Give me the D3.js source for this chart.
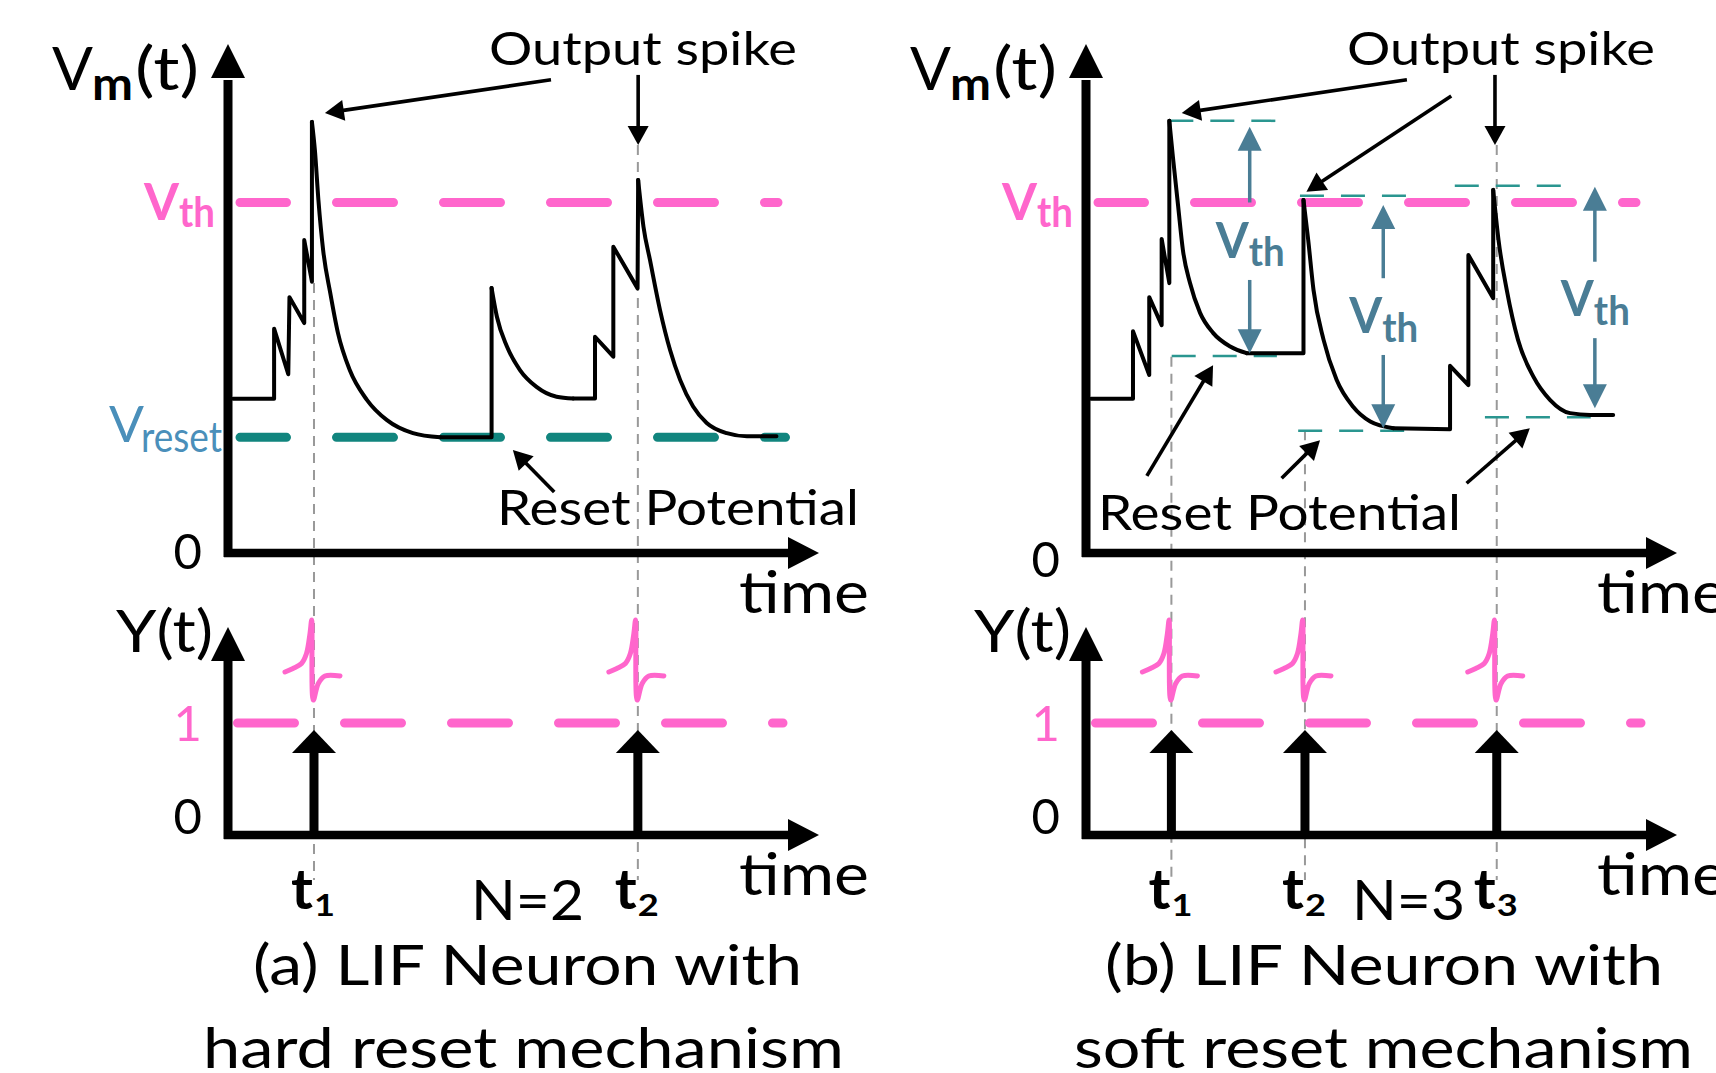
<!DOCTYPE html>
<html><head><meta charset="utf-8">
<script src="https://cdn.jsdelivr.net/npm/d3@7"></script>
<style>
body{margin:0;background:#fff}
svg{display:block}
text{font-family:Lato,"Open Sans",sans-serif}
</style>
</head><body>
<svg id="c" width="1716" height="1073"></svg>
<script>
// ---------------- data ----------------
const V_TH = 1.0;
const V_RESET = 0.33;
const OUT_LEVEL = 1;
const vmTicks = [0];
const outTicks = [0, 1];

// (a) hard reset membrane potential, [time, Vm] (Vm in units of Vth)
const hardJag1   = [[0.85,0.44],[7.8,0.44],[7.8,0.64],[10.2,0.51],[10.4,0.73],[12.9,0.656],[12.9,0.893],[14.2,0.774],[14.2,1.23]];
const hardDecay1 = [[14.2,1.23],[14.7,1.15],[15.3,1.007],[16.1,0.864],[17.3,0.742],[18.6,0.628],[20.6,0.522],[23.5,0.437],[26.9,0.379],[31.3,0.342],[35.9,0.33]];
const hardFlat1  = [[35.9,0.33],[44.6,0.33],[44.6,0.756]];
const hardDecay2 = [[44.6,0.756],[45.5,0.674],[47.2,0.589],[49.4,0.522],[52.2,0.474],[55.6,0.446],[58.4,0.441]];
const hardJag2   = [[58.4,0.441],[62.1,0.441],[62.1,0.617],[65.2,0.56],[65.2,0.874],[69.3,0.755],[69.4,1.064]];
const hardDecay3 = [[69.4,1.064],[70.3,0.931],[71.4,0.836],[73.1,0.693],[74.8,0.579],[76.5,0.494],[78.7,0.418],[81.0,0.371],[84.4,0.342],[87.8,0.333],[92.8,0.333]];
const hardSpikeT = [14.55, 69.35];

// (b) soft reset membrane potential
const softJag1   = [[0.85,0.44],[7.95,0.44],[7.95,0.633],[10.7,0.508],[10.7,0.73],[12.8,0.65],[12.8,0.896],[14.1,0.77],[14.1,1.233]];
const softDecay1 = [[14.1,1.233],[14.7,1.131],[15.6,0.988],[16.4,0.864],[17.6,0.77],[19.3,0.685],[21.5,0.628],[24.4,0.589],[27.2,0.57]];
const softFlat1  = [[27.2,0.57],[36.8,0.57],[36.8,1.007]];
const softDecay2 = [[36.8,1.007],[37.6,0.893],[38.5,0.75],[40.2,0.608],[42.4,0.494],[45.2,0.417],[48.1,0.375],[52.0,0.356]];
const softJag2   = [[52.0,0.356],[61.6,0.353],[61.6,0.534],[64.7,0.479],[64.7,0.85],[68.9,0.727],[68.9,1.036]];
const softDecay3 = [[68.9,1.036],[69.8,0.893],[71.2,0.75],[73.1,0.608],[75.7,0.503],[78.5,0.437],[81.9,0.399],[85.3,0.394],[89.2,0.394]];
const softSpikeT = [14.45, 37.05, 69.5];
// soft reset reference levels [tStart, tEnd, level]
const softRefLevels = [[14.1,33.2,1.233],[14.5,32.3,0.562],[36.2,54.8,1.019],[35.9,56.6,0.349],[62.4,81.4,1.048],[67.5,85.4,0.387]];
// Vth span arrows [time, top, topEnd, bottomStart, bottom]
const softVthSpans = [[27.7,1.216,1.0,0.779,0.57],[50.3,0.993,0.784,0.565,0.356],[86.1,1.045,0.831,0.613,0.413]];

// annotation arrows [tFrom, vFrom, tTo, vTo]
const hardOutArrows   = [[54.65,1.35,16.4,1.255],[69.4,1.364,69.4,1.164]];
const hardResetArrows = [[55.2,0.174,48.2,0.294]];
const softOutArrows   = [[54.3,1.35,16.2,1.255],[61.8,1.304,37.3,1.031],[69.2,1.364,69.2,1.164]];
const softResetArrows = [[10.3,0.22,21.5,0.536],[33.1,0.213,39.6,0.322],[64.4,0.199,75.1,0.356]];
const hardGuideTop = [0.77, 1.164];
const softGuideTop = [0.56, 0.35, 1.164];

const spikeIndexLabels = [["1","2"],["1","2","3"]];
const countLabels = ["N=2","N=3"];
const captionLines = [["(a) LIF Neuron with","hard reset mechanism"],["(b) LIF Neuron with","soft reset mechanism"]];

// ---------------- style ----------------
const PINK = "#ff66cc", TEAL = "#11857e", STEEL = "#4a7d95", VRESET_C = "#4a8fba", GRAY = "#999999";
const SPIKE_ICON = [[-29,-51],[-21,-54.5],[-12.5,-59.5],[-7.5,-69.5],[-4,-89.5],[-2.3,-103],[-0.7,-23],[4.3,-39.5],[11,-47],[26,-47]];

const svg = d3.select("#c");
const yV = d3.scaleLinear().domain([0, 1]).range([553, 202.5]);
const yS = d3.scaleLinear().domain([0, 1]).range([835, 723]);

function T(g, s, x, y, size, o = {}) {
  const t = g.append("text").attr("x", x).attr("y", y).attr("font-size", size)
    .attr("font-weight", o.w || 400).attr("fill", o.c || "#000").text(s);
  if (o.len) t.attr("textLength", o.len).attr("lengthAdjust", "spacingAndGlyphs");
  if (o.anchor) t.attr("text-anchor", o.anchor);
  return t;
}
function arrow(g, x1, y1, x2, y2, o) {
  const dx = x2 - x1, dy = y2 - y1, L = Math.hypot(dx, dy), ux = dx / L, uy = dy / L;
  const bx = x2 - ux * o.len, by = y2 - uy * o.len;
  g.append("line").attr("x1", x1).attr("y1", y1).attr("x2", bx + ux * 2).attr("y2", by + uy * 2)
    .attr("stroke", o.c).attr("stroke-width", o.w).attr("stroke-linecap", o.cap || "butt");
  g.append("path").attr("d", `M${x2},${y2}L${bx - uy * o.half},${by + ux * o.half}L${bx + uy * o.half},${by - ux * o.half}Z`)
    .attr("fill", o.c);
}

const panels = [
  { ox: 228, segs: [[hardJag1,0],[hardDecay1,1],[hardFlat1,0],[hardDecay2,1],[hardJag2,0],[hardDecay3,1]],
    spikes: hardSpikeT, guideTop: hardGuideTop, outArrows: hardOutArrows, resetArrows: hardResetArrows,
    vreset: true, zeroY: 0, rp: [497, 525, 362], count: [471, 113], cap1: [253, 549], cap2: [203, 641] },
  { ox: 1086, segs: [[softJag1,0],[softDecay1,1],[softFlat1,0],[softDecay2,1],[softJag2,0],[softDecay3,1]],
    spikes: softSpikeT, guideTop: softGuideTop, outArrows: softOutArrows, resetArrows: softResetArrows,
    vreset: false, zeroY: 8, rp: [1098, 530, 363], count: [1352, 113], cap1: [1105, 558], cap2: [1074, 619] }
];

panels.forEach((p, pi) => {
  const g = svg.append("g");
  const x = d3.scaleLinear().domain([0, 100]).range([p.ox, p.ox + 591]);
  const off = p.ox - 228;

  // guide lines (gray dashed verticals)
  p.spikes.forEach((t, i) => {
    g.append("line").attr("x1", x(t)).attr("x2", x(t)).attr("y1", yV(p.guideTop[i])).attr("y2", 880)
      .attr("stroke", GRAY).attr("stroke-width", 2).attr("stroke-dasharray", "10,7");
  });

  // threshold line
  g.append("line").attr("x1", x(0) + 12).attr("x2", x(0) + 550).attr("y1", yV(V_TH)).attr("y2", yV(V_TH))
    .attr("stroke", PINK).attr("stroke-width", 9).attr("stroke-linecap", "round")
    .attr("stroke-dasharray", "57,50").attr("stroke-dashoffset", 10.5);
  if (p.vreset) {
    g.append("line").attr("x1", x(0) + 12).attr("x2", x(0) + 557.5).attr("y1", yV(V_RESET)).attr("y2", yV(V_RESET))
      .attr("stroke", TEAL).attr("stroke-width", 9).attr("stroke-linecap", "round")
      .attr("stroke-dasharray", "57,50").attr("stroke-dashoffset", 10.5);
  } else {
    softRefLevels.forEach(r => {
      g.append("line").attr("x1", x(r[0])).attr("x2", x(r[1])).attr("y1", yV(r[2])).attr("y2", yV(r[2]))
        .attr("stroke", "#2a9690").attr("stroke-width", 2.5).attr("stroke-dasharray", "24,17");
    });
  }
  // output level line
  g.append("line").attr("x1", x(0) + 9.5).attr("x2", x(0) + 555).attr("y1", yS(OUT_LEVEL)).attr("y2", yS(OUT_LEVEL))
    .attr("stroke", PINK).attr("stroke-width", 9).attr("stroke-linecap", "round")
    .attr("stroke-dasharray", "57,50");

  // waveform
  p.segs.forEach(([pts, smooth]) => {
    const ln = d3.line().x(d => x(d[0])).y(d => yV(d[1])).curve(smooth ? d3.curveMonotoneX : d3.curveLinear);
    g.append("path").attr("d", ln(pts)).attr("fill", "none").attr("stroke", "#000")
      .attr("stroke-width", 4).attr("stroke-linejoin", "round").attr("stroke-linecap", "round");
  });

  // Vth span arrows (soft)
  if (!p.vreset) {
    softVthSpans.forEach(s => {
      const ax = x(s[0]);
      arrow(g, ax, yV(s[2]), ax, yV(s[1]), { c: STEEL, w: 3.5, len: 24, half: 12 });
      arrow(g, ax, yV(s[3]), ax, yV(s[4]), { c: STEEL, w: 3.5, len: 24, half: 12 });
      const mid = (yV(s[2]) + yV(s[3])) / 2;
      T(g, "V", ax - 34, mid + 16.5, 49, { w: 700, c: STEEL, len: 33 });
      T(g, "th", ax - 1, mid + 25, 40, { w: 700, c: STEEL, len: 36 });
    });
  }

  // axes (Vm)
  const ax0 = x(0);
  g.append("line").attr("x1", ax0).attr("x2", ax0).attr("y1", yV(0) + 4).attr("y2", 80)
    .attr("stroke", "#000").attr("stroke-width", 9);
  g.append("path").attr("d", `M${ax0},44L${ax0 - 17},78L${ax0 + 17},78Z`).attr("fill", "#000");
  arrow(g, ax0 - 4, yV(0), x(100), yV(0), { c: "#000", w: 8.5, len: 31, half: 16 });

  const yAxisVm = g.append("g").attr("transform", `translate(${ax0},${p.zeroY})`)
    .call(d3.axisLeft(yV).tickValues(vmTicks).tickSize(0).tickPadding(26).tickFormat(d3.format("d")));
  yAxisVm.select(".domain").remove();
  yAxisVm.attr("font-family", null).attr("font-size", null);
  yAxisVm.selectAll("text").attr("font-size", 49).attr("fill", "#000");

  // Vm labels
  T(g, "V", 52 + off, 90, 60, { len: 41 });
  T(g, "m", 92 + off, 100, 45, { w: 700, len: 41 });
  T(g, "(t)", 135 + off, 90, 60, { len: 64 });
  T(g, "V", 144 + off, 220, 52, { w: 700, c: PINK, len: 35 });
  T(g, "th", 179 + off, 227, 42, { w: 700, c: PINK, len: 36 });
  if (p.vreset) {
    T(g, "V", 109, 441.7, 51, { c: VRESET_C, len: 35 });
    T(g, "reset", 141, 452, 43, { c: VRESET_C, len: 81 });
  }
  T(g, "Output spike", 489 + off, 65, 46, { len: 308 });
  T(g, "Reset Potential", p.rp[0], p.rp[1], 49, { len: p.rp[2] });
  T(g, "time", 739 + off, 613, 58, { len: 130 });

  // annotation arrows
  p.outArrows.concat(p.resetArrows).forEach(a => {
    arrow(g, x(a[0]), yV(a[1]), x(a[2]), yV(a[3]), { c: "#000", w: 3.6, len: 19, half: 10.5 });
  });

  // ---------- output spike panel ----------
  g.append("line").attr("x1", ax0).attr("x2", ax0).attr("y1", yS(0) + 4).attr("y2", 660)
    .attr("stroke", "#000").attr("stroke-width", 9);
  g.append("path").attr("d", `M${ax0},627L${ax0 - 17},661L${ax0 + 17},661Z`).attr("fill", "#000");
  arrow(g, ax0 - 4, yS(0), x(100), yS(0), { c: "#000", w: 8.5, len: 31, half: 16 });

  const yAxisOut = g.append("g").attr("transform", `translate(${ax0},0)`)
    .call(d3.axisLeft(yS).tickValues(outTicks).tickSize(0).tickPadding(26).tickFormat(d3.format("d")));
  yAxisOut.select(".domain").remove();
  yAxisOut.attr("font-family", null).attr("font-size", null);
  yAxisOut.selectAll("text").attr("font-size", 49)
    .attr("fill", d => d === 1 ? PINK : "#000")
    .attr("dy", d => d === 1 ? "0.35em" : "-0.04em");

  T(g, "Y(t)", 116 + off, 652, 58, { len: 97 });
  T(g, "time", 739 + off, 895, 58, { len: 130 });

  const icon = d3.line().curve(d3.curveCatmullRom.alpha(0.5));
  p.spikes.forEach((t, i) => {
    const sx = x(t);
    arrow(g, sx, yS(0), sx, yS(OUT_LEVEL) + 7, { c: "#000", w: 9, len: 23, half: 22 });
    g.append("path").attr("d", icon(SPIKE_ICON.map(d => [sx + d[0], yS(OUT_LEVEL) + d[1]])))
      .attr("fill", "none").attr("stroke", PINK).attr("stroke-width", 5).attr("stroke-linecap", "round");
    T(g, "t", sx - 23, 909, 56, { w: 700, len: 22 });
    T(g, spikeIndexLabels[pi][i], sx, 916, 31, { w: 700, len: 21 });
  });

  T(g, countLabels[pi], p.count[0], 920, 56, { len: p.count[1] });
  T(g, captionLines[pi][0], p.cap1[0], 985, 56, { len: p.cap1[1] });
  T(g, captionLines[pi][1], p.cap2[0], 1068, 56, { len: p.cap2[1] });
});
</script>
</body></html>
